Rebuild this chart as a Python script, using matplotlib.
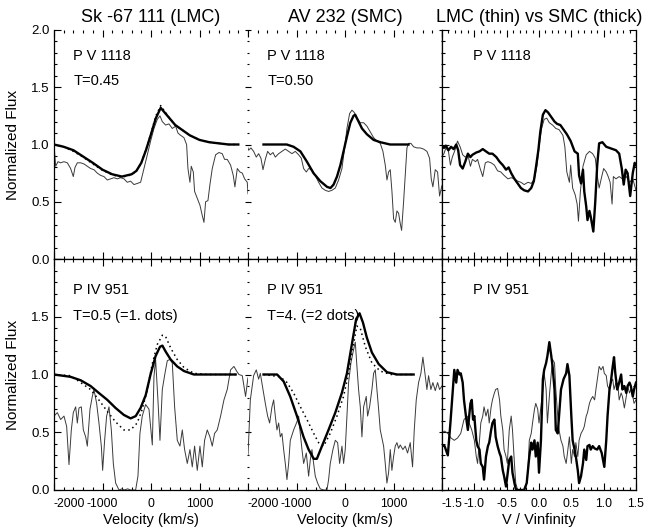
import numpy as np
import matplotlib.pyplot as plt

plt.rcParams['font.family'] = ['Liberation Sans', 'DejaVu Sans']

# ---- P V 1118, Sk -67 111 (LMC)
v_pv_lmc_mod = [-2000, -1800, -1600, -1400, -1200, -1000, -800, -600, -400, -300, -200, -100, 0,
                100, 200, 300, 400, 500, 600, 800, 1000, 1200, 1400, 1600, 1800]
f_pv_lmc_mod = [1.00, 0.98, 0.95, 0.895, 0.84, 0.78, 0.74, 0.72, 0.74, 0.77, 0.84, 0.955, 1.09,
                1.23, 1.32, 1.27, 1.22, 1.17, 1.14, 1.08, 1.04, 1.02, 1.01, 1.00, 1.00]
f_pv_lmc_dot = [1.00, 0.98, 0.94, 0.89, 0.83, 0.775, 0.735, 0.715, 0.735, 0.77, 0.84, 0.96, 1.10,
                1.25, 1.34, 1.28, 1.22, 1.17, 1.14, 1.08, 1.04, 1.02, 1.01, 1.00, 1.00]
pv_lmc_obs = [(-2000, 1.00), (-1966, 0.81), (-1918, 0.85), (-1863, 0.84), (-1794, 0.85), (-1725, 0.84),
              (-1657, 0.79), (-1602, 0.72), (-1567, 0.80), (-1519, 0.84), (-1450, 0.84), (-1382, 0.83),
              (-1313, 0.81), (-1244, 0.79), (-1176, 0.78), (-1107, 0.75), (-1038, 0.73), (-970, 0.72),
              (-901, 0.69), (-832, 0.70), (-763, 0.71), (-695, 0.70), (-626, 0.71), (-557, 0.70),
              (-489, 0.67), (-420, 0.68), (-351, 0.65), (-283, 0.66), (-214, 0.67), (-145, 0.79),
              (-76, 0.91), (-8, 1.03), (61, 1.14), (130, 1.22), (185, 1.25), (233, 1.20), (301, 1.17),
              (370, 1.18), (439, 1.14), (508, 1.16), (556, 1.10), (611, 1.08), (679, 1.06), (734, 1.00),
              (762, 0.79), (803, 0.67), (830, 0.81), (872, 0.76), (899, 0.59), (954, 0.53), (1009, 0.47),
              (1057, 0.38), (1092, 0.32), (1126, 0.50), (1174, 0.51), (1215, 0.65), (1263, 0.79),
              (1332, 0.91), (1401, 0.93), (1469, 0.92), (1517, 0.87), (1572, 0.87), (1641, 0.82),
              (1696, 0.73), (1730, 0.63), (1779, 0.79), (1833, 0.76), (1882, 0.75), (1930, 0.70),
              (1985, 0.67), (2000, 0.57)]

# ---- P V 1118, AV 232 (SMC)
v_pv_smc_mod = [-1680, -1400, -1200, -1060, -920, -785, -650, -510, -370, -300, -235, -165, -95, -30,
                40, 110, 175, 210, 280, 350, 450, 590, 730, 930, 1310]
f_pv_smc_mod = [1.00, 1.00, 1.00, 0.98, 0.94, 0.85, 0.75, 0.68, 0.63, 0.62, 0.65, 0.72, 0.82, 0.94,
                1.07, 1.19, 1.25, 1.26, 1.20, 1.14, 1.09, 1.04, 1.02, 1.00, 1.00]
pv_smc_obs = [(-2000, 0.97), (-1987, 0.95), (-1939, 0.97), (-1884, 0.94), (-1829, 0.89), (-1781, 0.92),
              (-1733, 0.88), (-1691, 0.78), (-1643, 0.87), (-1595, 0.94), (-1540, 0.91), (-1485, 0.93),
              (-1437, 0.89), (-1368, 0.92), (-1300, 0.94), (-1231, 0.96), (-1162, 0.94), (-1094, 0.92),
              (-1025, 0.94), (-956, 0.91), (-901, 0.88), (-853, 0.79), (-798, 0.76), (-750, 0.79),
              (-681, 0.78), (-613, 0.73), (-544, 0.67), (-475, 0.62), (-407, 0.60), (-338, 0.59),
              (-269, 0.60), (-200, 0.62), (-132, 0.69), (-63, 0.79), (-8, 0.97), (40, 1.14), (95, 1.27),
              (143, 1.30), (191, 1.28), (246, 1.23), (315, 1.19), (384, 1.19), (452, 1.16), (521, 1.11),
              (590, 1.06), (658, 1.03), (727, 1.01), (782, 0.94), (830, 0.82), (865, 0.69), (899, 0.76),
              (933, 0.78), (968, 0.59), (1002, 0.35), (1036, 0.32), (1071, 0.42), (1105, 0.40),
              (1139, 0.31), (1167, 0.25), (1208, 0.50), (1242, 0.73), (1277, 0.97), (1311, 1.01),
              (1359, 1.01), (1414, 0.98), (1483, 0.97), (1552, 0.97), (1620, 0.96), (1689, 0.94),
              (1744, 0.88), (1778, 0.70), (1812, 0.63), (1861, 0.78), (1909, 0.76), (1950, 0.55),
              (1998, 0.64)]

# ---- P V 1118 vs V/Vinf
pv_lmc_vinf = [(-1.52, 0.88), (-1.47, 0.92), (-1.44, 0.97), (-1.40, 0.94), (-1.37, 0.82), (-1.34, 0.89),
               (-1.30, 0.95), (-1.26, 1.03), (-1.22, 0.98), (-1.18, 0.91), (-1.14, 0.89), (-1.10, 0.91),
               (-1.06, 0.81), (-1.03, 0.87), (-0.98, 0.85), (-0.95, 0.87), (-0.91, 0.79), (-0.87, 0.72),
               (-0.83, 0.84), (-0.79, 0.85), (-0.74, 0.84), (-0.69, 0.82), (-0.64, 0.77), (-0.59, 0.76),
               (-0.54, 0.73), (-0.48, 0.70), (-0.43, 0.71), (-0.38, 0.70), (-0.33, 0.68), (-0.28, 0.67),
               (-0.23, 0.65), (-0.17, 0.67), (-0.12, 0.66), (-0.07, 0.70), (-0.03, 0.82), (0.005, 1.00),
               (0.04, 1.14), (0.08, 1.22), (0.12, 1.23), (0.16, 1.19), (0.21, 1.17), (0.26, 1.14),
               (0.31, 1.13), (0.37, 1.08), (0.40, 0.98), (0.43, 0.76), (0.47, 0.67), (0.49, 0.82),
               (0.52, 0.62), (0.56, 0.56), (0.59, 0.48), (0.61, 0.33), (0.64, 0.59), (0.68, 0.81),
               (0.73, 0.91), (0.78, 0.94), (0.83, 0.92), (0.87, 0.88), (0.90, 0.73), (0.93, 0.62),
               (0.97, 0.72), (1.00, 0.79), (1.04, 0.76), (1.07, 0.72), (1.10, 0.67), (1.13, 0.48),
               (1.15, 0.72), (1.19, 0.70), (1.24, 0.72), (1.29, 0.70), (1.35, 0.72), (1.40, 0.67),
               (1.45, 0.70), (1.50, 0.60)]
pv_smc_vinf = [(-1.52, 1.00), (-1.47, 0.97), (-1.44, 0.99), (-1.40, 0.95), (-1.36, 0.98), (-1.32, 0.96),
               (-1.28, 1.00), (-1.25, 0.95), (-1.22, 0.82), (-1.18, 0.79), (-1.14, 0.85), (-1.10, 0.92),
               (-1.06, 0.89), (-1.03, 0.91), (-0.97, 0.93), (-0.92, 0.94), (-0.87, 0.96), (-0.82, 0.94),
               (-0.77, 0.92), (-0.72, 0.92), (-0.66, 0.89), (-0.61, 0.85), (-0.56, 0.82), (-0.51, 0.78),
               (-0.47, 0.80), (-0.43, 0.75), (-0.38, 0.70), (-0.33, 0.66), (-0.28, 0.62), (-0.23, 0.60),
               (-0.17, 0.59), (-0.12, 0.62), (-0.08, 0.68), (-0.05, 0.79), (-0.01, 0.95), (0.02, 1.11),
               (0.06, 1.26), (0.10, 1.30), (0.14, 1.28), (0.19, 1.24), (0.24, 1.20), (0.28, 1.18),
               (0.33, 1.17), (0.38, 1.13), (0.43, 1.09), (0.49, 1.03), (0.55, 0.94), (0.60, 0.92),
               (0.62, 0.73), (0.65, 0.66), (0.68, 0.78), (0.70, 0.59), (0.73, 0.46), (0.75, 0.34),
               (0.78, 0.42), (0.80, 0.37), (0.84, 0.24), (0.87, 0.50), (0.90, 0.82), (0.93, 1.01),
               (0.98, 1.02), (1.04, 0.98), (1.09, 0.97), (1.14, 0.96), (1.19, 0.95), (1.24, 0.92),
               (1.28, 0.79), (1.31, 0.65), (1.34, 0.78), (1.37, 0.75), (1.41, 0.55), (1.45, 0.75),
               (1.48, 0.84), (1.50, 0.82)]

# ---- P IV 951, Sk -67 111 (LMC)
v_piv_lmc_mod = [-2000, -1660, -1450, -1245, -1075, -900, -730, -560, -420, -315, -215, -110, -10, 95,
                 185, 235, 300, 405, 540, 680, 885, 1160, 1745]
f_piv_lmc_mod = [1.00, 0.98, 0.95, 0.90, 0.84, 0.78, 0.71, 0.65, 0.62, 0.64, 0.71, 0.82, 1.00, 1.16,
                 1.24, 1.25, 1.20, 1.13, 1.07, 1.03, 1.00, 1.00, 1.00]
v_piv_lmc_dot = [-2000, -1660, -1450, -1245, -1075, -900, -730, -560, -420, -285, -180, -75, 25, 130,
                 235, 300, 405, 540, 680, 885, 1160, 1745]
f_piv_lmc_dot = [1.00, 0.99, 0.93, 0.87, 0.78, 0.68, 0.59, 0.52, 0.52, 0.58, 0.70, 0.87, 1.09, 1.26,
                 1.34, 1.33, 1.23, 1.13, 1.06, 1.01, 1.00, 1.00]
piv_lmc_obs = [(-2000, 0.64), (-1931, 0.67), (-1863, 0.61), (-1794, 0.64), (-1739, 0.55), (-1691, 0.22),
               (-1643, 0.52), (-1602, 0.67), (-1553, 0.72), (-1519, 0.58), (-1485, 0.71), (-1437, 0.72),
               (-1395, 0.52), (-1347, 0.46), (-1313, 0.38), (-1258, 0.70), (-1210, 0.81), (-1176, 0.87),
               (-1121, 0.75), (-1073, 0.58), (-1024, 0.38), (-997, 0.17), (-956, 0.43), (-915, 0.64),
               (-866, 0.72), (-818, 0.52), (-777, 0.23), (-729, 0.06), (-660, 0.0), (-600, 0.01),
               (-557, 0.0), (-480, 0.01), (-420, 0.0), (-317, 0.0), (-269, 0.12), (-228, 0.49),
               (-180, 0.64), (-111, 0.74), (-42, 0.70), (27, 0.39), (61, 0.98), (95, 1.13), (143, 0.78),
               (185, 0.43), (233, 0.87), (288, 1.01), (336, 1.12), (391, 1.13), (439, 1.10), (487, 0.72),
               (542, 0.43), (597, 0.38), (645, 0.52), (693, 0.35), (748, 0.23), (803, 0.35), (851, 0.20),
               (899, 0.38), (954, 0.17), (1009, 0.38), (1057, 0.20), (1105, 0.43), (1160, 0.52),
               (1215, 0.46), (1263, 0.38), (1311, 0.49), (1366, 0.52), (1435, 0.64), (1504, 0.78),
               (1572, 0.87), (1641, 1.04), (1710, 1.07), (1765, 1.03), (1813, 1.00), (1882, 0.99),
               (1950, 0.81), (1998, 0.97)]

# ---- P IV 951, AV 232 (SMC)
v_piv_smc_mod = [-1680, -1400, -1265, -1130, -990, -855, -750, -645, -580, -475, -340, -200, -65, 40,
                 145, 230, 300, 370, 450, 555, 695, 865, 1070, 1415]
f_piv_smc_mod = [1.00, 1.00, 0.94, 0.81, 0.64, 0.46, 0.35, 0.27, 0.27, 0.38, 0.52, 0.67, 0.84, 1.01,
                 1.27, 1.48, 1.53, 1.45, 1.32, 1.19, 1.09, 1.02, 1.00, 1.00]
v_piv_smc_dot = [-1680, -1335, -1195, -1060, -920, -785, -645, -545, -440, -305, -165, -30, 75, 165,
                 245, 315, 420, 555, 725, 935, 1415]
f_piv_smc_dot = [1.00, 0.98, 0.93, 0.84, 0.72, 0.61, 0.49, 0.41, 0.38, 0.49, 0.64, 0.81, 1.01, 1.24,
                 1.42, 1.40, 1.24, 1.10, 1.03, 1.00, 1.00]
piv_smc_obs = [(-2000, 0.30), (-1952, 0.78), (-1884, 0.99), (-1829, 1.04), (-1781, 0.96), (-1746, 1.01),
               (-1691, 0.87), (-1643, 0.75), (-1595, 0.64), (-1554, 0.58), (-1506, 0.72), (-1471, 0.78),
               (-1437, 0.64), (-1403, 0.52), (-1368, 0.58), (-1334, 0.46), (-1300, 0.49), (-1265, 0.35),
               (-1231, 0.23), (-1197, 0.09), (-1162, 0.23), (-1128, 0.43), (-1059, 0.52), (-991, 0.59),
               (-956, 0.64), (-922, 0.49), (-887, 0.35), (-853, 0.23), (-798, 0.32), (-750, 0.12),
               (-716, 0.26), (-681, 0.35), (-647, 0.23), (-613, 0.12), (-565, 0.06), (-510, 0.01),
               (-441, 0.0), (-372, 0.0), (-338, 0.09), (-304, 0.23), (-249, 0.35), (-200, 0.43),
               (-152, 0.41), (-111, 0.23), (-63, 0.38), (-29, 0.23), (5, 0.35), (40, 0.64), (74, 0.93),
               (122, 1.10), (164, 1.19), (212, 1.28), (246, 1.07), (280, 0.87), (315, 0.72), (349, 0.46),
               (384, 0.72), (438, 0.81), (466, 0.64), (507, 0.72), (555, 0.87), (590, 1.01), (624, 1.04),
               (658, 0.87), (693, 0.70), (727, 0.52), (796, 0.38), (830, 0.23), (864, 0.06), (899, 0.15),
               (933, 0.35), (967, 0.17), (1002, 0.29), (1036, 0.38), (1071, 0.41), (1105, 0.36),
               (1139, 0.39), (1194, 0.35), (1242, 0.38), (1290, 0.32), (1345, 0.41), (1393, 0.20),
               (1428, 0.52), (1469, 0.78), (1517, 0.93), (1565, 1.01), (1606, 1.15), (1654, 0.99),
               (1689, 0.87), (1723, 0.99), (1771, 0.87), (1812, 0.93), (1861, 0.86), (1909, 0.93),
               (1950, 0.87), (1998, 0.90)]

# ---- P IV 951 vs V/Vinf
piv_lmc_vinf = [(-1.52, 0.49), (-1.46, 0.51), (-1.41, 0.49), (-1.36, 0.45), (-1.31, 0.43), (-1.26, 0.45),
                (-1.21, 0.49), (-1.16, 0.61), (-1.11, 0.64), (-1.08, 0.58), (-1.04, 0.52), (-1.00, 0.43),
                (-0.97, 0.29), (-0.95, 0.23), (-0.92, 0.43), (-0.90, 0.58), (-0.87, 0.64), (-0.85, 0.72),
                (-0.82, 0.64), (-0.79, 0.70), (-0.77, 0.58), (-0.74, 0.72), (-0.72, 0.78), (-0.69, 0.84),
                (-0.67, 0.87), (-0.64, 0.88), (-0.61, 0.78), (-0.59, 0.64), (-0.56, 0.52), (-0.54, 0.35),
                (-0.51, 0.29), (-0.49, 0.23), (-0.46, 0.52), (-0.43, 0.64), (-0.41, 0.52), (-0.38, 0.23),
                (-0.36, 0.06), (-0.33, 0.0), (-0.28, 0.0), (-0.23, 0.0), (-0.20, 0.03), (-0.17, 0.17),
                (-0.15, 0.43), (-0.12, 0.49), (-0.10, 0.58), (-0.07, 0.70), (-0.05, 0.75), (-0.02, 0.70),
                (0.00, 0.58), (0.03, 0.72), (0.06, 0.87), (0.08, 1.01), (0.11, 0.87), (0.13, 0.58),
                (0.16, 0.81), (0.19, 1.01), (0.21, 1.13), (0.24, 1.10), (0.26, 0.87), (0.29, 0.64),
                (0.31, 0.52), (0.34, 0.43), (0.37, 0.38), (0.39, 0.29), (0.42, 0.23), (0.44, 0.32),
                (0.47, 0.46), (0.50, 0.23), (0.52, 0.35), (0.55, 0.29), (0.57, 0.41), (0.60, 0.29),
                (0.62, 0.43), (0.65, 0.49), (0.68, 0.52), (0.70, 0.55), (0.73, 0.64), (0.75, 0.67),
                (0.78, 0.75), (0.80, 0.78), (0.83, 0.81), (0.86, 0.78), (0.88, 0.87), (0.91, 0.99),
                (0.93, 1.07), (0.96, 1.04), (0.99, 1.07), (1.01, 1.01), (1.04, 0.99), (1.06, 0.90),
                (1.09, 0.87), (1.11, 0.93), (1.14, 0.96), (1.16, 0.87), (1.19, 0.93), (1.22, 0.90),
                (1.24, 0.78), (1.27, 0.84), (1.29, 0.81), (1.32, 0.71), (1.35, 0.81), (1.37, 0.90),
                (1.40, 0.84), (1.42, 0.87), (1.45, 0.81), (1.47, 0.75), (1.50, 0.78)]
piv_smc_vinf = [(-1.52, 0.39), (-1.46, 0.38), (-1.41, 0.30), (-1.37, 0.58), (-1.34, 0.81), (-1.31, 1.04),
                (-1.28, 0.93), (-1.26, 1.04), (-1.23, 1.00), (-1.21, 1.01), (-1.18, 0.93), (-1.16, 0.78),
                (-1.13, 0.64), (-1.10, 0.52), (-1.08, 0.64), (-1.06, 0.75), (-1.04, 0.78), (-1.02, 0.61),
                (-1.00, 0.64), (-0.97, 0.43), (-0.95, 0.38), (-0.92, 0.35), (-0.90, 0.23), (-0.87, 0.20),
                (-0.85, 0.09), (-0.82, 0.29), (-0.79, 0.38), (-0.77, 0.41), (-0.74, 0.52), (-0.72, 0.58),
                (-0.69, 0.61), (-0.67, 0.46), (-0.64, 0.38), (-0.61, 0.32), (-0.59, 0.29), (-0.56, 0.17),
                (-0.54, 0.12), (-0.51, 0.03), (-0.49, 0.12), (-0.46, 0.26), (-0.43, 0.29), (-0.41, 0.15),
                (-0.38, 0.06), (-0.36, 0.01), (-0.33, 0.0), (-0.28, 0.0), (-0.23, 0.0), (-0.19, 0.06),
                (-0.15, 0.29), (-0.12, 0.41), (-0.10, 0.35), (-0.07, 0.43), (-0.05, 0.29), (-0.02, 0.41),
                (0.00, 0.15), (0.03, 0.43), (0.06, 0.96), (0.08, 1.04), (0.11, 1.10), (0.13, 1.16),
                (0.16, 1.28), (0.19, 1.16), (0.21, 1.07), (0.24, 0.87), (0.26, 0.52), (0.29, 0.49),
                (0.31, 0.64), (0.34, 0.87), (0.38, 0.96), (0.42, 1.01), (0.44, 1.09), (0.47, 0.99),
                (0.50, 0.64), (0.52, 0.43), (0.55, 0.35), (0.57, 0.29), (0.60, 0.17), (0.62, 0.06),
                (0.65, 0.12), (0.68, 0.23), (0.70, 0.35), (0.73, 0.26), (0.75, 0.38), (0.78, 0.39),
                (0.80, 0.35), (0.83, 0.38), (0.86, 0.36), (0.90, 0.35), (0.93, 0.38), (0.97, 0.32),
                (1.01, 0.20), (1.04, 0.43), (1.06, 0.64), (1.09, 0.87), (1.11, 0.93), (1.14, 1.07),
                (1.16, 1.15), (1.18, 1.01), (1.21, 0.87), (1.24, 0.93), (1.27, 1.00), (1.29, 0.87),
                (1.32, 0.90), (1.35, 0.84), (1.37, 0.90), (1.40, 0.93), (1.42, 0.90), (1.45, 0.81),
                (1.47, 0.87), (1.50, 0.93)]

col_titles = ["Sk -67 111 (LMC)", "AV 232 (SMC)", "LMC (thin) vs SMC (thick)"]
v_ticks = [-2000, -1000, 0, 1000, 2000]
v_ticklabels = ["-2000", "-1000", "0", "1000", ""]
u_ticks = [-1.5, -1.0, -0.5, 0.0, 0.5, 1.0, 1.5]
u_ticklabels = ["-1.5", "-1.0", "-0.5", "0.0", "0.5", "1.0", "1.5"]

THIN = dict(color='#3a3a3a', lw=0.7)
THICK = dict(color='black', lw=1.7)
DOTS = dict(color='black', lw=1.1, ls=(0, (1, 2.2)))

fig = plt.figure(figsize=(6.46, 5.32), dpi=100)
W, H = 646, 532
cols = [54, 248, 442, 636]
rows = [(30, 259), (259, 490)]

axes = {}
for r, (top, bot) in enumerate(rows):
    for c in range(3):
        ax = fig.add_axes([cols[c] / W, (H - bot) / H, (cols[c + 1] - cols[c]) / W, (bot - top) / H])
        axes[r, c] = ax


def unzip(pairs):
    a, b = zip(*pairs)
    return list(a), list(b)


# top row
ax = axes[0, 0]
x, y = unzip(pv_lmc_obs)
ax.plot(x, y, **THIN)
ax.plot(v_pv_lmc_mod, f_pv_lmc_dot, **DOTS)
ax.plot(v_pv_lmc_mod, f_pv_lmc_mod, **THICK)
ax = axes[0, 1]
x, y = unzip(pv_smc_obs)
ax.plot(x, y, **THIN)
ax.plot(v_pv_smc_mod, f_pv_smc_mod, **THICK)
ax = axes[0, 2]
x, y = unzip(pv_lmc_vinf)
ax.plot(x, y, **THIN)
x, y = unzip(pv_smc_vinf)
ax.plot(x, y, **THICK)

# bottom row
ax = axes[1, 0]
x, y = unzip(piv_lmc_obs)
ax.plot(x, y, **THIN)
ax.plot(v_piv_lmc_dot, f_piv_lmc_dot, **DOTS)
ax.plot(v_piv_lmc_mod, f_piv_lmc_mod, **THICK)
ax = axes[1, 1]
x, y = unzip(piv_smc_obs)
ax.plot(x, y, **THIN)
ax.plot(v_piv_smc_dot, f_piv_smc_dot, **DOTS)
ax.plot(v_piv_smc_mod, f_piv_smc_mod, **THICK)
ax = axes[1, 2]
x, y = unzip(piv_lmc_vinf)
ax.plot(x, y, **THIN)
x, y = unzip(piv_smc_vinf)
ax.plot(x, y, **THICK)

for (r, c), ax in axes.items():
    ax.set_ylim(0, 2)
    ax.set_yticks(np.arange(0, 2.01, 0.5))
    ax.set_yticks(np.arange(0, 2.01, 0.1), minor=True)
    if c < 2:
        ax.set_xlim(-2000, 2000)
        ax.set_xticks(v_ticks)
        ax.set_xticks(np.arange(-2000, 2001, 200), minor=True)
    else:
        ax.set_xlim(-1.5, 1.5)
        ax.set_xticks(u_ticks)
        ax.set_xticks(np.arange(-1.5, 1.51, 0.1), minor=True)
    for s in ax.spines.values():
        s.set_linewidth(0.9)
    ax.tick_params(which='both', direction='in', top=True, bottom=True, left=True, right=True,
                   width=0.8)
    ax.tick_params(axis='x', pad=6, labelsize=8.8)
    ax.tick_params(axis='y', pad=3, labelsize=9.5)
    ax.tick_params(which='major', length=5)
    ax.tick_params(which='minor', length=2.5)
    if r == 0:
        ax.spines['top'].set_visible(False)
    if c == 0:
        ax.spines['right'].set_visible(False)
        ax.tick_params(which='both', right=False)
        ax.set_ylabel("Normalized Flux", fontsize=11, labelpad=8)
    if c == 1:
        ax.spines['left'].set_visible(False)
        ax.tick_params(axis='y', which='both', direction='inout')
        ax.tick_params(axis='y', which='minor', length=1.5)
        ax.tick_params(axis='y', which='both', right=True)

# tick labels (set last so later tick_params calls do not reset them)
for (r, c), ax in axes.items():
    if r == 1:
        ax.set_xticklabels(v_ticklabels if c < 2 else u_ticklabels)
        ax.get_xticklabels()[0].set_horizontalalignment('left')
    else:
        ax.set_xticklabels([])
    if c == 0:
        ax.set_yticklabels(["0.0", "0.5", "1.0", "1.5", "2.0" if r == 0 else ""])
    else:
        ax.set_yticklabels([])

for c in range(2):
    axes[1, c].set_xlabel("Velocity (km/s)", fontsize=10.5, labelpad=2)
axes[1, 2].set_xlabel("V / Vinfinity", fontsize=10.5, labelpad=2)
for c in range(3):
    axes[0, c].set_title(col_titles[c], fontsize=13, pad=6)

# labels inside panels
notes = [((0, 0), 0.1, "P V 1118", "T=0.45"),
         ((0, 1), 0.1, "P V 1118", "T=0.50"),
         ((0, 2), 0.16, "P V 1118", None),
         ((1, 0), 0.1, "P IV 951", "T=0.5 (=1. dots)"),
         ((1, 1), 0.1, "P IV 951", "T=4. (=2 dots)"),
         ((1, 2), 0.16, "P IV 951", None)]
for key, xpos, line1, line2 in notes:
    ax = axes[key]
    y1, y2 = (0.87, 0.76) if key[0] == 0 else (0.85, 0.735)
    ax.text(xpos, y1, line1, fontsize=10.5, transform=ax.transAxes)
    if line2:
        ax.text(xpos, y2, line2, fontsize=10.5, transform=ax.transAxes)

fig.savefig("out.png", dpi=100)
